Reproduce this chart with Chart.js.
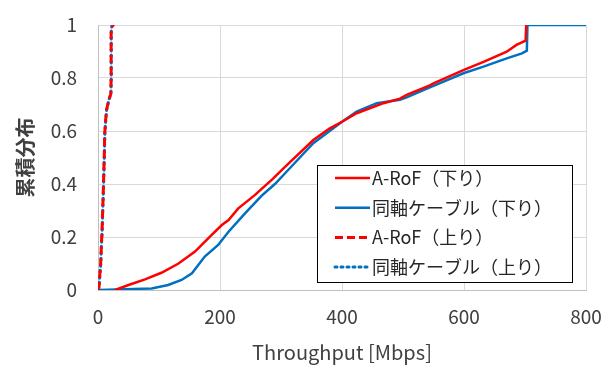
<!DOCTYPE html>
<html>
<head>
<meta charset="utf-8">
<script src="https://cdn.jsdelivr.net/npm/chart.js@4"></script>
<style>
  html, body { margin: 0; padding: 0; background: #fff; }
  #wrap { width: 611px; height: 371px; }
</style>
</head>
<body>
<div id="wrap"><canvas id="cdfChart" width="611" height="371"></canvas></div>
<script>
// throughput [Mbps] / cumulative distribution
const arofDownX = [28, 50, 77, 104, 132, 159, 186, 203, 214, 230, 257, 266, 287, 304, 353, 380, 400, 424, 468, 495, 506, 544, 550, 599, 632, 670, 686, 701, 702];
const arofDownY = [0, 0.019, 0.04, 0.065, 0.10, 0.145, 0.207, 0.245, 0.264, 0.308, 0.358, 0.377, 0.42, 0.459, 0.566, 0.61, 0.635, 0.667, 0.705, 0.722, 0.736, 0.772, 0.78, 0.83, 0.861, 0.899, 0.925, 0.941, 1.0];

const coaxDownX = [2, 88, 115, 137, 154, 175, 197, 214, 241, 268, 290, 304, 353, 400, 424, 457, 495, 506, 544, 550, 599, 632, 670, 695, 703, 704, 800];
const coaxDownY = [0, 0.006, 0.019, 0.038, 0.063, 0.126, 0.17, 0.22, 0.289, 0.355, 0.40, 0.434, 0.554, 0.635, 0.673, 0.705, 0.718, 0.727, 0.765, 0.77, 0.818, 0.843, 0.874, 0.893, 0.903, 1.0, 1.0];

const arofUpX = [0, 1.6, 3, 4.4, 5.5, 6.6, 7.5, 8.2, 9, 9.8, 10.5, 11, 12.5, 14, 16, 18, 21, 21.5, 21.5, 24, 27];
const arofUpY = [0, 0.01, 0.06, 0.10, 0.17, 0.22, 0.29, 0.34, 0.40, 0.47, 0.53, 0.59, 0.64, 0.68, 0.70, 0.72, 0.74, 0.80, 0.97, 1.0, 1.0];

const coaxUpX = [0, 1.8, 3.2, 4.6, 5.7, 6.8, 7.7, 8.4, 9.2, 10, 10.7, 11.2, 12.7, 14.2, 16.2, 18.2, 21.2, 21.7, 21.7, 23];
const coaxUpY = [0, 0.01, 0.06, 0.10, 0.17, 0.22, 0.29, 0.34, 0.40, 0.47, 0.53, 0.59, 0.64, 0.68, 0.70, 0.72, 0.74, 0.80, 0.98, 1.0];

const xTicks = [0, 200, 400, 600, 800];
const yTicks = [0, 0.2, 0.4, 0.6, 0.8, 1];

function pts(xs, ys) {
    return xs.map(function (x, i) { return { x: x, y: ys[i] }; });
}

const FONT = '"Noto Sans CJK JP", "Noto Sans", sans-serif';
const TEXT = '#404040';

// legend box drawn inside the plot, like the original
const boxLegend = {
    id: 'boxLegend',
    afterDraw(chart) {
        const ctx = chart.ctx;
        const left = 317, top = 165, w = 255, h = 117;
        ctx.save();
        ctx.fillStyle = '#fff';
        ctx.fillRect(left, top, w, h);
        ctx.strokeStyle = '#000';
        ctx.lineWidth = 1;
        ctx.strokeRect(left + 0.5, top + 0.5, w, h);
        ctx.font = '18px ' + FONT;
        ctx.textBaseline = 'middle';
        chart.data.datasets.forEach(function (ds, i) {
            const y = 178 + i * 29.7;
            ctx.beginPath();
            ctx.strokeStyle = ds.borderColor;
            ctx.lineWidth = ds.borderWidth;
            ctx.lineCap = ds.borderCapStyle || 'butt';
            ctx.setLineDash(ds.borderDash || []);
            ctx.moveTo(335, y);
            ctx.lineTo(370, y);
            ctx.stroke();
            ctx.setLineDash([]);
            ctx.fillStyle = '#262626';
            ctx.fillText(ds.label, 372, y);
        });
        ctx.restore();
    }
};

const ctx = document.getElementById('cdfChart').getContext('2d');
new Chart(ctx, {
    type: 'line',
    data: {
        datasets: [{
            label: 'A-RoF（下り）',
            data: pts(arofDownX, arofDownY),
            borderColor: '#ff0000',
            borderWidth: 2.5,
        }, {
            label: '同軸ケーブル（下り）',
            data: pts(coaxDownX, coaxDownY),
            borderColor: '#0070c0',
            borderWidth: 2.5,
        }, {
            label: 'A-RoF（上り）',
            data: pts(arofUpX, arofUpY),
            borderColor: '#ff0000',
            borderWidth: 3,
            borderDash: [8, 4],
        }, {
            label: '同軸ケーブル（上り）',
            data: pts(coaxUpX, coaxUpY),
            borderColor: '#0070c0',
            borderWidth: 3,
            borderDash: [2, 4],
            borderCapStyle: 'round',
        }],
    },
    options: {
        responsive: false,
        animation: false,
        elements: { point: { radius: 0 }, line: { tension: 0, fill: false } },
        layout: { padding: { left: 0, right: 25, top: 25, bottom: 0 } },
        plugins: { legend: { display: false }, tooltip: { enabled: false } },
        scales: {
            x: {
                type: 'linear',
                min: 0,
                max: 800,
                afterBuildTicks(scale) { scale.ticks = xTicks.map(function (v) { return { value: v }; }); },
                afterFit(scale) {
                    scale.height = 81;
                    scale.paddingLeft = 0;
                    scale.paddingRight = 0;
                },
                grid: { color: '#d9d9d9', drawTicks: false },
                border: { color: '#bfbfbf' },
                ticks: { color: TEXT, font: { family: FONT, size: 19 }, padding: 15, maxRotation: 0 },
                title: {
                    display: true,
                    text: 'Throughput [Mbps]',
                    color: TEXT,
                    font: { family: FONT, size: 20 },
                    padding: { top: 0, bottom: 7 },
                },
            },
            y: {
                min: 0,
                max: 1,
                afterBuildTicks(scale) { scale.ticks = yTicks.map(function (v) { return { value: v }; }); },
                afterFit(scale) {
                    scale.width = 98;
                    scale.paddingTop = 0;
                    scale.paddingBottom = 0;
                },
                grid: { color: '#d9d9d9', drawTicks: false },
                border: { color: '#bfbfbf' },
                ticks: {
                    color: TEXT,
                    font: { family: FONT, size: 19 },
                    padding: 21,
                    callback: function (v) { return String(Math.round(v * 10) / 10); },
                },
                title: {
                    display: true,
                    text: '累積分布',
                    color: TEXT,
                    font: { family: FONT, size: 20, weight: 'bold' },
                    padding: { top: 13, bottom: 0 },
                },
            },
        },
    },
    plugins: [boxLegend],
});
</script>
</body>
</html>
